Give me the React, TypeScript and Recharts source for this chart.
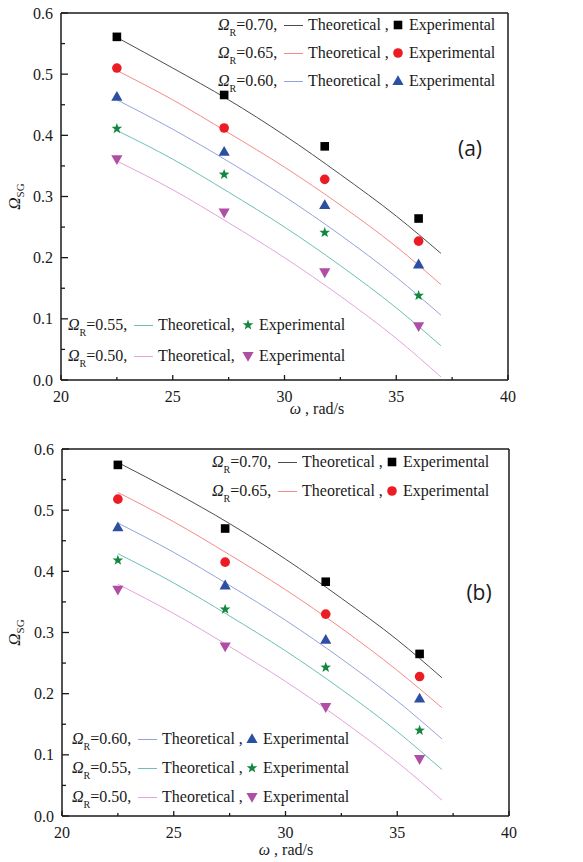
import React from "react";
import {
  ComposedChart,
  Line,
  Scatter,
  XAxis,
  YAxis,
  ReferenceLine,
} from "recharts";

// rotational speed, rad/s
const omegaExp = [22.5, 27.3, 31.8, 36.0];
const omegaTheo = [22.5, 25, 27.5, 30, 32.5, 35, 37];

const xTicks = [20, 22.5, 25, 27.5, 30, 32.5, 35, 37.5, 40];
const yTicks = [0, 0.05, 0.1, 0.15, 0.2, 0.25, 0.3, 0.35, 0.4, 0.45, 0.5, 0.55, 0.6];

const ratios = ["0.70", "0.65", "0.60", "0.55", "0.50"];

// panel (a)
const expA070 = [0.561, 0.466, 0.382, 0.264];
const expA065 = [0.51, 0.412, 0.328, 0.227];
const expA060 = [0.463, 0.373, 0.286, 0.189];
const expA055 = [0.411, 0.336, 0.241, 0.138];
const expA050 = [0.361, 0.274, 0.176, 0.088];

const theoA070 = [0.56, 0.51, 0.458, 0.4, 0.336, 0.268, 0.207];
const theoA065 = [0.506, 0.458, 0.404, 0.348, 0.286, 0.218, 0.156];
const theoA060 = [0.458, 0.41, 0.357, 0.3, 0.237, 0.168, 0.106];
const theoA055 = [0.408, 0.361, 0.307, 0.25, 0.187, 0.118, 0.056];
const theoA050 = [0.358, 0.311, 0.257, 0.2, 0.137, 0.068, 0.005];

// panel (b)
const expB070 = [0.574, 0.47, 0.383, 0.265];
const expB065 = [0.518, 0.415, 0.33, 0.228];
const expB060 = [0.472, 0.377, 0.288, 0.192];
const expB055 = [0.418, 0.338, 0.243, 0.14];
const expB050 = [0.37, 0.277, 0.178, 0.093];

const theoB070 = [0.578, 0.53, 0.478, 0.42, 0.356, 0.288, 0.226];
const theoB065 = [0.529, 0.481, 0.427, 0.37, 0.307, 0.238, 0.177];
const theoB060 = [0.479, 0.431, 0.377, 0.32, 0.257, 0.188, 0.126];
const theoB055 = [0.429, 0.381, 0.327, 0.27, 0.207, 0.138, 0.076];
const theoB050 = [0.379, 0.331, 0.277, 0.22, 0.157, 0.088, 0.026];

const LINE_COLORS = ["#4d4d4d", "#f58a8a", "#94a2dc", "#6cc0b7", "#e6a2dc"];
const MARK_COLORS = ["#000000", "#ec1c24", "#2c4fa3", "#12883f", "#b04ea4"];
const KINDS = ["square", "circle", "triangle", "star", "down"];

const SERIF = "Liberation Serif, DejaVu Serif, Times New Roman, serif";
const INK = "#1a1a1a";
const X_MARGIN = 6;
const Y_MARGIN = 6;

function toPoints(xs: number[], ys: number[]) {
  return xs.map((x, i) => ({ x, y: ys[i] }));
}

function Marker({ kind, cx, cy, fill }: { kind: string; cx: number; cy: number; fill: string }) {
  if (kind === "square") {
    return <rect x={cx - 4.3} y={cy - 4.3} width={8.6} height={8.6} fill={fill} />;
  }
  if (kind === "circle") {
    return <circle cx={cx} cy={cy} r={4.8} fill={fill} />;
  }
  if (kind === "triangle") {
    return (
      <polygon
        points={`${cx},${cy - 5.8} ${cx - 5.6},${cy + 4} ${cx + 5.6},${cy + 4}`}
        fill={fill}
      />
    );
  }
  if (kind === "down") {
    return (
      <polygon
        points={`${cx - 5.6},${cy - 4} ${cx + 5.6},${cy - 4} ${cx},${cy + 5.8}`}
        fill={fill}
      />
    );
  }
  const pts: string[] = [];
  for (let i = 0; i < 10; i++) {
    const r = i % 2 === 0 ? 5.6 : 2.3;
    const a = -Math.PI / 2 + (i * Math.PI) / 5;
    pts.push(`${cx + r * Math.cos(a)},${cy + r * Math.sin(a)}`);
  }
  return <polygon points={pts.join(" ")} fill={fill} />;
}

function XTick(props: any) {
  const { x, y, payload } = props;
  const v = payload.value;
  const major = Math.abs(v % 5) < 1e-6;
  const axisY = y - X_MARGIN;
  return (
    <g>
      <line x1={x} x2={x} y1={axisY} y2={axisY - (major ? 5 : 3)} stroke={INK} strokeWidth={1.3} />
      {major && (
        <text x={x} y={axisY + 22} textAnchor="middle" fontFamily={SERIF} fontSize={16} fill={INK}>
          {v}
        </text>
      )}
    </g>
  );
}

function YTick(props: any) {
  const { x, y, payload } = props;
  const v = payload.value;
  const major = Math.round(v * 100) % 10 === 0;
  const axisX = x + Y_MARGIN;
  return (
    <g>
      <line x1={axisX} x2={axisX + (major ? 7 : 4)} y1={y} y2={y} stroke={INK} strokeWidth={1.3} />
      {major && (
        <text x={axisX - 8} y={y + 5.5} textAnchor="end" fontFamily={SERIF} fontSize={16} fill={INK}>
          {v.toFixed(1)}
        </text>
      )}
    </g>
  );
}

function LegendRow({ idx, left, top, comma }: { idx: number; left: number; top: number; comma: string }) {
  const base: React.CSSProperties = {
    position: "absolute",
    top: top - 10,
    height: 20,
    lineHeight: "20px",
    fontFamily: SERIF,
    fontSize: 16,
    color: INK,
    whiteSpace: "nowrap",
  };
  return (
    <>
      <div style={{ ...base, left }}>
        <span style={{ fontStyle: "italic" }}>Ω</span>
        <span style={{ fontSize: 10, position: "relative", top: 6 }}>R</span>
        <span>={ratios[idx]},</span>
      </div>
      <div
        style={{
          position: "absolute",
          left: left + 66,
          top: top,
          width: 19,
          height: 1,
          background: LINE_COLORS[idx],
        }}
      />
      <div style={{ ...base, left: left + 90 }}>{"Theoretical" + comma}</div>
      <svg style={{ position: "absolute", left: left + 173, top: top - 7 }} width={14} height={14}>
        <Marker kind={KINDS[idx]} cx={7} cy={7} fill={MARK_COLORS[idx]} />
      </svg>
      <div style={{ ...base, left: left + 191 }}>Experimental</div>
    </>
  );
}

type PanelProps = {
  height: number;
  top: number;
  plotLeft: number;
  plotRight: number;
  plotBottom: number;
  exp: number[][];
  theo: number[][];
  tag: string;
  tagX: number;
  tagY: number;
  xLabelX: number;
  xLabelDy: number;
  legend: { idx: number; left: number; top: number; comma: string }[];
};

function Panel(p: PanelProps) {
  const width = 583;
  const xLabel = (props: any) => {
    const vb = props.viewBox;
    return (
      <text x={p.xLabelX} y={vb.y + p.xLabelDy} textAnchor="middle" fontFamily={SERIF} fontSize={16} fill={INK}>
        <tspan fontStyle="italic">ω</tspan>
        <tspan> , rad/s</tspan>
      </text>
    );
  };
  const yLabel = (props: any) => {
    const vb = props.viewBox;
    const cy = vb.y + vb.height / 2;
    return (
      <text
        x={20}
        y={cy}
        transform={`rotate(-90 20 ${cy})`}
        textAnchor="middle"
        fontFamily={SERIF}
        fontSize={17}
        fill={INK}
      >
        <tspan fontStyle="italic">Ω</tspan>
        <tspan fontSize={11} dy={4}>SG</tspan>
      </text>
    );
  };

  return (
    <div style={{ position: "absolute", left: 0, top: p.top, width, height: p.height }}>
      <ComposedChart
        width={width}
        height={p.height}
        margin={{ top: p.top === 0 ? 13 : 19, right: width - p.plotRight, bottom: 0, left: 0 }}
      >
        <XAxis
          type="number"
          dataKey="x"
          domain={[20, 40]}
          ticks={xTicks}
          interval={0}
          tickLine={false}
          tickSize={0}
          tickMargin={X_MARGIN}
          tick={<XTick />}
          axisLine={{ stroke: INK, strokeWidth: 1.5 }}
          height={p.height - p.plotBottom}
          allowDataOverflow
          label={{ content: xLabel }}
        />
        <YAxis
          type="number"
          dataKey="y"
          domain={[0, 0.6]}
          ticks={yTicks}
          interval={0}
          tickLine={false}
          tickSize={0}
          tickMargin={Y_MARGIN}
          tick={<YTick />}
          axisLine={{ stroke: INK, strokeWidth: 1.5 }}
          width={p.plotLeft}
          allowDataOverflow
          label={{ content: yLabel }}
        />
        <ReferenceLine y={0.6} stroke={INK} strokeWidth={1.5} ifOverflow="visible" />
        <ReferenceLine x={40} stroke={INK} strokeWidth={1.5} ifOverflow="visible" />
        {p.theo.map((ys, i) => (
          <Line
            key={"t" + i}
            data={toPoints(omegaTheo, ys)}
            dataKey="y"
            type="monotone"
            stroke={LINE_COLORS[i]}
            strokeWidth={1}
            dot={false}
            activeDot={false}
            isAnimationActive={false}
          />
        ))}
        {p.exp.map((ys, i) => (
          <Scatter
            key={"e" + i}
            data={toPoints(omegaExp, ys)}
            dataKey="y"
            isAnimationActive={false}
            shape={(s: any) => <Marker kind={KINDS[i]} cx={s.cx} cy={s.cy} fill={MARK_COLORS[i]} />}
          />
        ))}
      </ComposedChart>
      {p.legend.map((l) => (
        <LegendRow key={l.idx} {...l} />
      ))}
      <div
        style={{
          position: "absolute",
          left: p.tagX - 20,
          width: 40,
          top: p.tagY - 15,
          height: 30,
          lineHeight: "30px",
          textAlign: "center",
          fontFamily: "'Open Sans', sans-serif",
          fontSize: 21,
          color: INK,
        }}
      >
        {p.tag}
      </div>
    </div>
  );
}

export default function App() {
  return (
    <div style={{ position: "absolute", left: 0, top: 0, width: 583, height: 862, background: "#fff" }}>
      <Panel
        height={430}
        top={0}
        plotLeft={61}
        plotRight={508}
        plotBottom={380}
        exp={[expA070, expA065, expA060, expA055, expA050]}
        theo={[theoA070, theoA065, theoA060, theoA055, theoA050]}
        tag="(a)"
        tagX={470}
        tagY={148}
        xLabelX={317}
        xLabelDy={34}
        legend={[
          { idx: 0, left: 218, top: 25, comma: " ," },
          { idx: 1, left: 218, top: 53, comma: " ," },
          { idx: 2, left: 218, top: 81, comma: " ," },
          { idx: 3, left: 68, top: 325, comma: "," },
          { idx: 4, left: 68, top: 356, comma: "," },
        ]}
      />
      <Panel
        height={432}
        top={430}
        plotLeft={62}
        plotRight={509}
        plotBottom={386}
        exp={[expB070, expB065, expB060, expB055, expB050]}
        theo={[theoB070, theoB065, theoB060, theoB055, theoB050]}
        tag="(b)"
        tagX={479}
        tagY={162}
        xLabelX={286}
        xLabelDy={39}
        legend={[
          { idx: 0, left: 212, top: 32, comma: " ," },
          { idx: 1, left: 212, top: 61, comma: " ," },
          { idx: 2, left: 72, top: 309, comma: " ," },
          { idx: 3, left: 72, top: 338, comma: " ," },
          { idx: 4, left: 72, top: 367, comma: " ," },
        ]}
      />
    </div>
  );
}
